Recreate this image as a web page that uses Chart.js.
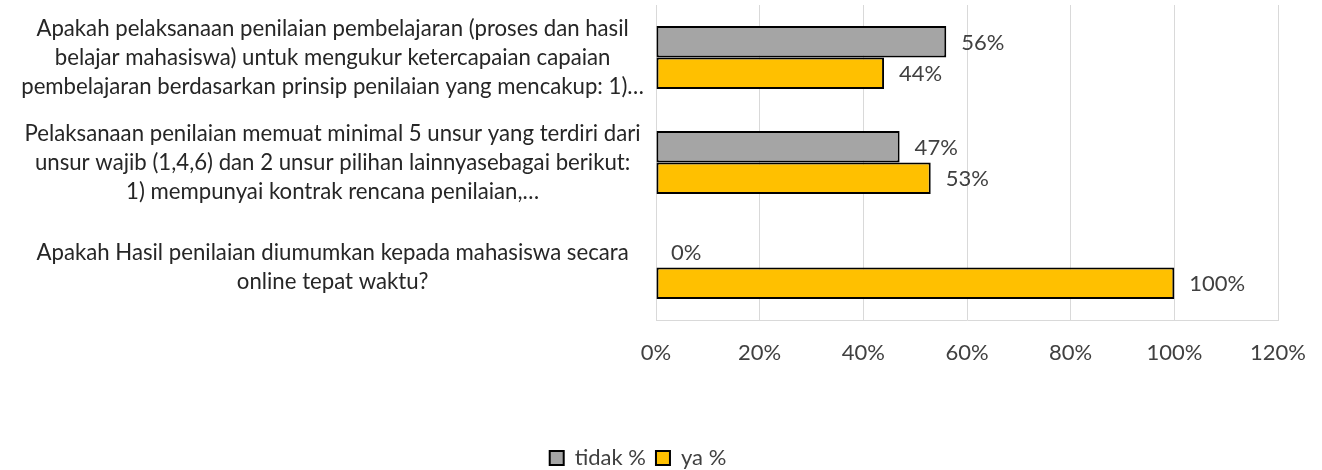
<!DOCTYPE html>
<html>
<head>
<meta charset="utf-8">
<script src="https://cdn.jsdelivr.net/npm/chart.js@4/dist/chart.umd.min.js"></script>
<style>
  html, body { margin: 0; padding: 0; background: #fff; }
  #wrap { width: 1322px; height: 470px; position: relative; }
</style>
</head>
<body>
<div id="wrap"><canvas id="chart1"></canvas></div>
<script>
// data
const categories = [
    ['Apakah pelaksanaan penilaian pembelajaran (proses dan hasil',
     'belajar mahasiswa) untuk mengukur ketercapaian capaian',
     'pembelajaran berdasarkan prinsip penilaian yang mencakup: 1)…'],
    ['Pelaksanaan penilaian memuat minimal 5 unsur yang terdiri dari',
     'unsur wajib (1,4,6) dan 2 unsur pilihan lainnyasebagai berikut:',
     '1) mempunyai kontrak rencana penilaian,…'],
    ['Apakah Hasil penilaian diumumkan kepada mahasiswa secara',
     'online tepat waktu?']
];
const seriesNames = ['tidak %', 'ya %'];
const tidakValues = [56, 47, 0];
const yaValues = [44, 53, 100];
const xTicks = [0, 20, 40, 60, 80, 100, 120];

const FONT = 'Lato, "Open Sans", sans-serif';
const TEXT = '#404040';

// label nilai di ujung bar
const valueLabels = {
    id: 'valueLabels',
    afterDatasetsDraw(chart) {
        const ctx = chart.ctx;
        ctx.save();
        ctx.font = '22px ' + FONT;
        ctx.fillStyle = TEXT;
        ctx.textAlign = 'left';
        ctx.textBaseline = 'middle';
        chart.data.datasets.forEach((ds, i) => {
            chart.getDatasetMeta(i).data.forEach((bar, j) => {
                ctx.fillText(ds.data[j] + '%', bar.x + 15, bar.y + 1);
            });
        });
        ctx.restore();
    }
};

// posisi legenda
const legendShift = {
    id: 'legendShift',
    afterLayout(chart) {
        const lg = chart.legend;
        lg.left -= 6; lg.right -= 6;
        lg.top += 9; lg.bottom += 9;
    }
};

new Chart(document.getElementById('chart1'), {
    type: 'bar',
    data: {
        labels: categories,
        datasets: [{
            label: seriesNames[0],
            data: tidakValues,
            backgroundColor: '#A5A5A5',
            borderColor: '#000000',
            borderWidth: 2,
            borderSkipped: false
        }, {
            label: seriesNames[1],
            data: yaValues,
            backgroundColor: '#FFC000',
            borderColor: '#000000',
            borderWidth: 2,
            borderSkipped: false
        }]
    },
    options: {
        indexAxis: 'y',
        responsive: true,
        maintainAspectRatio: false,
        animation: false,
        layout: { padding: { top: 5, left: 10, right: 44 } },
        datasets: {
            bar: { categoryPercentage: 0.6, barPercentage: 1 }
        },
        scales: {
            x: {
                min: 0,
                max: 120,
                afterBuildTicks(scale) {
                    scale.ticks = xTicks.map(v => ({ value: v }));
                },
                ticks: {
                    callback: v => v + '%',
                    font: { family: FONT, size: 22 },
                    color: TEXT,
                    padding: 20
                },
                grid: { color: '#D9D9D9', lineWidth: 1, drawTicks: false },
                border: { color: '#D9D9D9' },
                afterFit(scale) { scale.height = 108; scale.paddingLeft = 0; scale.paddingRight = 0; }
            },
            y: {
                ticks: {
                    crossAlign: 'center',
                    padding: 4,
                    font: { family: FONT, size: 22.2, lineHeight: 1.3 },
                    color: '#262626'
                },
                grid: { display: false },
                border: { color: '#D9D9D9' },
                afterFit(scale) {
                    scale.width = 646;
                    scale.paddingTop = 0;
                    scale.paddingBottom = 0;
                }
            }
        },
        plugins: {
            legend: {
                position: 'bottom',
                labels: {
                    boxWidth: 14,
                    boxHeight: 14,
                    padding: 10,
                    font: { family: FONT, size: 22 },
                    color: TEXT
                }
            },
            tooltip: { enabled: false }
        }
    },
    plugins: [valueLabels, legendShift]
});
</script>
</body>
</html>
